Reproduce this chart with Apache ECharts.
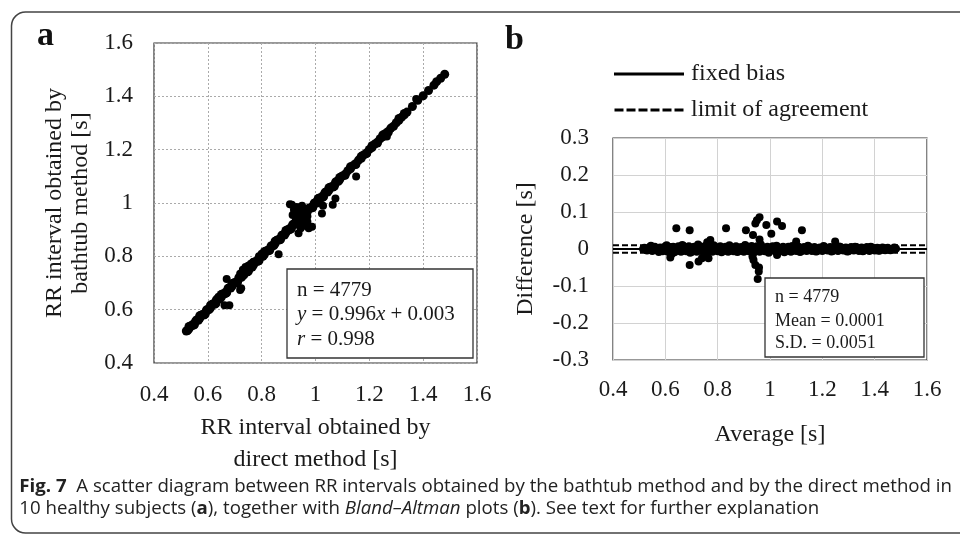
<!DOCTYPE html>
<html>
<head>
<meta charset="utf-8">
<script src="https://cdn.jsdelivr.net/npm/echarts@6/dist/echarts.min.js"></script>
<style>
html,body{margin:0;padding:0;background:#fff;}
#chart{width:960px;height:535px;}
</style>
</head>
<body>
<div id="chart"></div>
<script>
// ---------- DATA ----------
var axisTicksA = [0.4, 0.6, 0.8, 1.0, 1.2, 1.4, 1.6];
var yTicksB = [-0.3, -0.2, -0.1, 0, 0.1, 0.2, 0.3];

// Panel a: [direct method, bathtub method]
var bandA = [
  [0.52,0.520],[0.525,0.522],[0.53,0.528],[0.535,0.538],[0.54,0.542],[0.545,0.541],[0.55,0.548],[0.555,0.558],
  [0.56,0.562],[0.565,0.560],[0.57,0.568],[0.575,0.579],[0.58,0.582],[0.585,0.580],[0.59,0.588],[0.595,0.599],
  [0.60,0.602],[0.605,0.600],[0.61,0.607],[0.615,0.619],[0.62,0.622],[0.625,0.620],[0.63,0.628],[0.635,0.640],
  [0.64,0.642],[0.645,0.641],[0.65,0.647],[0.655,0.659],[0.66,0.661],[0.665,0.660],[0.67,0.668],[0.675,0.680],
  [0.68,0.682],[0.685,0.681],[0.69,0.688],[0.695,0.699],[0.70,0.702],[0.705,0.700],[0.71,0.707],[0.715,0.720],
  [0.72,0.722],[0.725,0.721],[0.73,0.728],[0.735,0.740],[0.74,0.742],[0.745,0.741],[0.75,0.748],[0.755,0.760],
  [0.76,0.761],[0.765,0.760],[0.77,0.768],[0.775,0.779],[0.78,0.782],[0.785,0.781],[0.79,0.788],[0.795,0.799],
  [0.80,0.802],[0.805,0.800],[0.81,0.807],[0.815,0.819],[0.82,0.822],[0.825,0.821],[0.83,0.828],[0.835,0.839],
  [0.84,0.841],[0.845,0.840],[0.85,0.848],[0.855,0.859],[0.86,0.862],[0.865,0.861],[0.87,0.868],[0.875,0.879],
  [0.88,0.881],[0.885,0.880],[0.89,0.888],[0.895,0.899],[0.90,0.902],[0.905,0.900],[0.91,0.908],[0.915,0.919],
  [0.92,0.921],[0.925,0.920],[0.93,0.928],[0.935,0.939],[0.94,0.942],[0.945,0.941],[0.95,0.948],[0.955,0.959],
  [0.96,0.961],[0.965,0.960],[0.97,0.968],[0.975,0.979],[0.98,0.982],[0.985,0.981],[0.99,0.988],[0.995,0.999],
  [1.00,1.002],[1.005,1.000],[1.01,1.008],[1.015,1.019],[1.02,1.021],[1.025,1.020],[1.03,1.028],[1.035,1.039],
  [1.04,1.042],[1.045,1.041],[1.05,1.048],[1.055,1.059],[1.06,1.061],[1.065,1.060],[1.07,1.068],[1.075,1.079],
  [1.08,1.082],[1.085,1.081],[1.09,1.088],[1.095,1.098],[1.10,1.101],[1.11,1.108],[1.12,1.121],[1.13,1.128],
  [1.14,1.141],[1.15,1.148],[1.16,1.161],[1.17,1.168],[1.18,1.181],[1.19,1.188],[1.20,1.201],[1.21,1.208],
  [1.22,1.221],[1.23,1.228],[1.24,1.241],[1.25,1.248],[1.26,1.261],[1.27,1.268],[1.28,1.281],[1.29,1.288],
  [1.30,1.301],[1.31,1.310],[1.32,1.322],[1.33,1.331],[1.34,1.341],[1.36,1.362],[1.38,1.385],[1.40,1.402],
  [1.42,1.422],[1.44,1.442],[1.45,1.455],[1.465,1.468],[1.48,1.483]
];
var bandA2 = [
  [0.53,0.537],[0.55,0.543],[0.57,0.577],[0.59,0.583],[0.61,0.617],[0.63,0.623],[0.65,0.657],[0.67,0.663],
  [0.69,0.697],[0.71,0.703],[0.73,0.737],[0.75,0.743],[0.77,0.777],[0.79,0.783],[0.81,0.817],[0.83,0.823],
  [0.85,0.857],[0.87,0.863],[0.89,0.897],[0.91,0.903],[0.93,0.937],[0.95,0.943],[0.97,0.977],[0.99,0.983],
  [1.01,1.017],[1.03,1.023],[1.05,1.057],[1.07,1.063],[1.09,1.096],[1.11,1.104],[1.13,1.136],[1.15,1.144],
  [1.17,1.175],[1.19,1.185],[1.21,1.215],[1.23,1.225],[1.25,1.255],[1.27,1.264],[1.31,1.317],[1.33,1.336]
];
var clusterA = [
  [0.905,0.995],[0.912,0.993],[0.92,0.975],[0.925,0.96],[0.93,0.985],[0.935,0.97],[0.94,0.955],[0.945,0.975],
  [0.95,0.99],[0.955,0.965],[0.96,0.945],[0.965,0.975],[0.93,0.945],[0.94,0.93],[0.95,0.925],[0.96,0.915],
  [0.97,0.93],[0.975,0.905],[0.925,0.93],[0.945,0.905],[0.935,0.95],[0.955,0.935],[0.97,0.95],[0.915,0.955],
  [0.72,0.735],[0.73,0.75],[0.74,0.76],[0.745,0.745],[0.75,0.765],[0.76,0.772],[0.77,0.78],[0.735,0.73],[0.755,0.752],
  [0.63,0.636],[0.64,0.648],[0.79,0.80],[0.80,0.81]
];
var outliersA = [
  [0.670,0.715],[0.720,0.674],[0.724,0.680],[0.662,0.617],[0.680,0.617],[0.863,0.808],[0.937,0.887],[0.987,0.911],
  [1.024,0.961],[1.028,0.990],[1.064,0.993],[1.074,1.017],[1.151,1.099],[1.265,1.249],[1.374,1.390]
];

// Panel b: [average, difference]
var bandB = [
  [0.52,0.002],[0.53,-0.003],[0.54,0.004],[0.55,-0.004],[0.56,0.005],[0.57,-0.002],[0.58,0.003],[0.59,-0.005],
  [0.60,0.006],[0.61,-0.006],[0.62,0.004],[0.625,-0.012],[0.63,0.005],[0.64,-0.004],[0.65,0.006],[0.66,-0.006],
  [0.67,0.007],[0.68,-0.005],[0.69,0.006],[0.70,-0.007],[0.71,0.005],[0.72,-0.006],[0.73,0.007],[0.74,-0.005],
  [0.75,0.006],[0.76,-0.006],[0.77,0.007],[0.78,-0.006],[0.79,0.005],[0.80,-0.005],[0.81,0.006],[0.82,-0.004],
  [0.83,0.005],[0.84,-0.006],[0.85,0.004],[0.86,-0.005],[0.87,0.006],[0.88,-0.005],[0.89,0.004],[0.90,-0.006],
  [0.91,0.006],[0.92,-0.005],[0.93,0.007],[0.94,-0.007],[0.95,0.006],[0.96,-0.006],[0.97,0.005],[0.98,-0.005],
  [0.99,0.005],[1.00,-0.004],[1.01,0.006],[1.02,-0.005],[1.03,0.004],[1.04,-0.005],[1.05,0.005],[1.06,-0.004],
  [1.07,0.005],[1.08,-0.006],[1.09,0.004],[1.10,-0.004],[1.11,0.005],[1.12,-0.005],[1.13,0.004],[1.14,-0.004],
  [1.15,0.005],[1.16,-0.004],[1.17,0.004],[1.18,-0.005],[1.19,0.003],[1.20,-0.004],[1.21,0.004],[1.22,-0.003],
  [1.23,0.004],[1.24,-0.004],[1.25,0.003],[1.26,-0.004],[1.27,0.004],[1.28,-0.003],[1.29,0.003],[1.30,-0.005],
  [1.31,0.004],[1.32,-0.003],[1.33,0.004],[1.34,-0.004],[1.35,0.003],[1.36,-0.003],[1.37,0.004],[1.38,-0.004],
  [1.39,0.003],[1.40,-0.003],[1.41,0.002],[1.42,-0.003],[1.43,0.003],[1.44,-0.002],[1.45,0.002],[1.46,-0.002],
  [1.48,0.001]
];
var bandB2 = [
  [0.515,0.0],[0.545,0.009],[0.575,-0.008],[0.605,0.010],[0.635,-0.009],[0.665,0.011],[0.695,-0.010],[0.725,0.012],
  [0.755,-0.011],[0.785,0.010],[0.815,-0.009],[0.845,0.010],[0.875,-0.008],[0.905,0.011],[0.935,-0.012],[0.965,0.012],
  [0.995,-0.010],[1.025,0.009],[1.055,-0.009],[1.085,0.008],[1.115,-0.008],[1.145,0.009],[1.175,-0.007],[1.205,0.008],
  [1.235,-0.007],[1.265,0.007],[1.295,-0.007],[1.325,0.006],[1.355,-0.006],[1.385,0.006],[1.415,-0.005],[1.475,0.004]
];
var outliersB = [
  [0.642,0.056],[0.693,0.051],[0.832,0.056],[0.908,0.051],[0.944,0.069],[0.950,0.078],[0.960,0.086],[0.986,0.065],
  [1.027,0.074],[1.046,0.062],[1.005,0.041],[0.935,0.038],[1.122,0.051],[1.100,0.020],[1.249,0.020],[0.772,0.024],
  [0.760,0.018],[0.960,0.026],[0.619,-0.023],[0.693,-0.043],[0.727,-0.034],[0.740,-0.025],[0.765,-0.025],
  [0.937,-0.030],[0.944,-0.043],[0.957,-0.061],[0.953,-0.081],[0.933,-0.020],[1.027,-0.016],[0.958,-0.050]
];

var meanDiff = 0.0001;
var sdDiff = 0.0051;
var biasLine = [[0.4, 0.0001],[1.6, 0.0001]];
var loaUpper = [[0.4, 0.0101],[1.6, 0.0101]];
var loaLower = [[0.4, -0.0099],[1.6, -0.0099]];

// ---------- CHART ----------
var SERIF = '"Liberation Serif","Times New Roman",serif';
var TXT = '#1a1a1a';
var chart = echarts.init(document.getElementById('chart'), null, {renderer:'canvas'});

function axisCommon(opts){
  return Object.assign({
    type:'value',
    axisLine:{show:false},
    axisTick:{show:false},
    axisLabel:{color:TXT, fontFamily:SERIF, fontSize:23},
    nameTextStyle:{color:TXT, fontFamily:SERIF, fontSize:24}
  }, opts);
}
function dots(data, xi, size){
  return {type:'scatter', xAxisIndex:xi, yAxisIndex:xi, data:data, symbolSize:size,
    itemStyle:{color:'#000', opacity:1}, silent:true};
}
var dashIcon = 'path://M0,0h9v3h-9zM12,0h9v3h-9zM24,0h9v3h-9zM36,0h9v3h-9zM48,0h9v3h-9zM60,0h9v3h-9z';

var option = {
  animation:false,
  backgroundColor:'#fff',
  grid:[
    {left:154, top:43, width:323, height:320, show:true, borderColor:'#333', borderWidth:1.2, backgroundColor:'transparent'},
    {left:613, top:138, width:314, height:222, show:true, borderColor:'#333', borderWidth:1.2, backgroundColor:'transparent'}
  ],
  xAxis:[
    axisCommon({gridIndex:0, min:axisTicksA[0], max:axisTicksA[axisTicksA.length-1], interval:0.2,
      splitLine:{show:true, lineStyle:{color:'#aaa', type:[2,2], width:1}},
      axisLabel:{color:TXT, fontFamily:SERIF, fontSize:23, margin:20},
      name:'RR interval obtained by\ndirect method [s]', nameLocation:'middle', nameGap:49,
      nameTextStyle:{color:TXT, fontFamily:SERIF, fontSize:24, lineHeight:32, verticalAlign:'top'}}),
    axisCommon({gridIndex:1, min:axisTicksA[0], max:axisTicksA[axisTicksA.length-1], interval:0.2,
      splitLine:{show:true, lineStyle:{color:'#d2d2d2', width:1}},
      axisLabel:{color:TXT, fontFamily:SERIF, fontSize:23, margin:18},
      name:'Average [s]', nameLocation:'middle', nameGap:63,
      nameTextStyle:{color:TXT, fontFamily:SERIF, fontSize:24, verticalAlign:'top'}})
  ],
  yAxis:[
    axisCommon({gridIndex:0, min:axisTicksA[0], max:axisTicksA[axisTicksA.length-1], interval:0.2,
      splitLine:{show:true, lineStyle:{color:'#aaa', type:[2,2], width:1}},
      axisLabel:{color:TXT, fontFamily:SERIF, fontSize:23, margin:21},
      name:'RR interval obtained by\nbathtub method [s]', nameLocation:'middle', nameGap:60, nameRotate:90,
      nameTextStyle:{color:TXT, fontFamily:SERIF, fontSize:24, lineHeight:26}}),
    axisCommon({gridIndex:1, min:yTicksB[0], max:yTicksB[yTicksB.length-1], interval:0.1,
      splitLine:{show:true, lineStyle:{color:'#d2d2d2', width:1}},
      axisLabel:{color:TXT, fontFamily:SERIF, fontSize:23, margin:24},
      name:'Difference [s]', nameLocation:'middle', nameGap:75, nameRotate:90,
      nameTextStyle:{color:TXT, fontFamily:SERIF, fontSize:24}})
  ],
  legend:{
    left:609, top:57, orient:'vertical', itemWidth:70, itemHeight:3, itemGap:12,
    textStyle:{color:TXT, fontFamily:SERIF, fontSize:24, padding:[0,0,0,2]},
    itemStyle:{color:'#000', borderWidth:0},
    data:[{name:'fixed bias', icon:'rect'},{name:'limit of agreement', icon:dashIcon}]
  },
  series:[
    dots(bandA, 0, 9), dots(bandA2, 0, 9), dots(clusterA, 0, 8), dots(outliersA, 0, 8),
    dots(bandB, 1, 9), dots(bandB2, 1, 8), dots(outliersB, 1, 8),
    {name:'fixed bias', type:'line', xAxisIndex:1, yAxisIndex:1, data:biasLine, symbol:'none', z:5,
      lineStyle:{color:'#000', width:2, type:'solid'}, itemStyle:{color:'#000'}},
    {name:'limit of agreement', type:'line', xAxisIndex:1, yAxisIndex:1, data:loaUpper, symbol:'none', z:5,
      lineStyle:{color:'#000', width:2, type:[6,3]}, itemStyle:{color:'#000'}},
    {name:'limit of agreement', type:'line', xAxisIndex:1, yAxisIndex:1, data:loaLower, symbol:'none', z:5,
      lineStyle:{color:'#000', width:2, type:[6,3]}, itemStyle:{color:'#000'}}
  ],
  graphic:[
    {type:'rect', shape:{x:11.5, y:12, width:1000, height:521, r:14}, style:{fill:null, stroke:'#444', lineWidth:1.5}, z:-1},
    {type:'text', x:37, y:53, style:{text:'a', font:'bold 34px '+SERIF, fill:'#111', textVerticalAlign:'bottom'}},
    {type:'text', x:505, y:57, style:{text:'b', font:'bold 34px '+SERIF, fill:'#111', textVerticalAlign:'bottom'}},
    {type:'group', children:[
      {type:'rect', shape:{x:287, y:269, width:186, height:89}, style:{fill:'#fff', stroke:'#333', lineWidth:1.3}, z:10},
      {type:'text', x:297, y:290, z:11, style:{text:'n = 4779', font:'21px '+SERIF, fill:TXT, textVerticalAlign:'middle'}},
      {type:'text', x:297, y:314, z:11, style:{text:'{i|y} = 0.996{i|x} + 0.003', font:'21px '+SERIF, fill:TXT, textVerticalAlign:'middle',
        rich:{i:{fontStyle:'italic', fontFamily:SERIF, fontSize:21, fill:TXT}}}},
      {type:'text', x:297, y:339, z:11, style:{text:'{i|r} = 0.998', font:'21px '+SERIF, fill:TXT, textVerticalAlign:'middle',
        rich:{i:{fontStyle:'italic', fontFamily:SERIF, fontSize:21, fill:TXT}}}}
    ]},
    {type:'group', children:[
      {type:'rect', shape:{x:765, y:278, width:159, height:79}, style:{fill:'#fff', stroke:'#333', lineWidth:1.3}, z:10},
      {type:'text', x:775, y:297, z:11, style:{text:'n = 4779', font:'18px '+SERIF, fill:TXT, textVerticalAlign:'middle'}},
      {type:'text', x:775, y:321, z:11, style:{text:'Mean = 0.0001', font:'18px '+SERIF, fill:TXT, textVerticalAlign:'middle'}},
      {type:'text', x:775, y:343, z:11, style:{text:'S.D. = 0.0051', font:'18px '+SERIF, fill:TXT, textVerticalAlign:'middle'}}
    ]},
    {type:'text', x:20, y:496, scaleX:1.037, originX:20, originY:496, style:{
      text:'{b|Fig. 7}  A scatter diagram between RR intervals obtained by the bathtub method and by the direct method in',
      font:'18px "Open Sans",sans-serif', fill:'#222', textVerticalAlign:'bottom',
      rich:{b:{fontWeight:'bold', fontFamily:'"Open Sans",sans-serif', fontSize:18, fill:'#222'}}}},
    {type:'text', x:20, y:518, scaleX:1.037, originX:20, originY:518, style:{
      text:'10 healthy subjects ({b|a}), together with {i|Bland–Altman} plots ({b|b}). See text for further explanation',
      font:'18px "Open Sans",sans-serif', fill:'#222', textVerticalAlign:'bottom',
      rich:{b:{fontWeight:'bold', fontFamily:'"Open Sans",sans-serif', fontSize:18, fill:'#222'},
            i:{fontStyle:'italic', fontFamily:'"Open Sans",sans-serif', fontSize:18, fill:'#222'}}}}
  ]
};
chart.setOption(option);
</script>
</body>
</html>
